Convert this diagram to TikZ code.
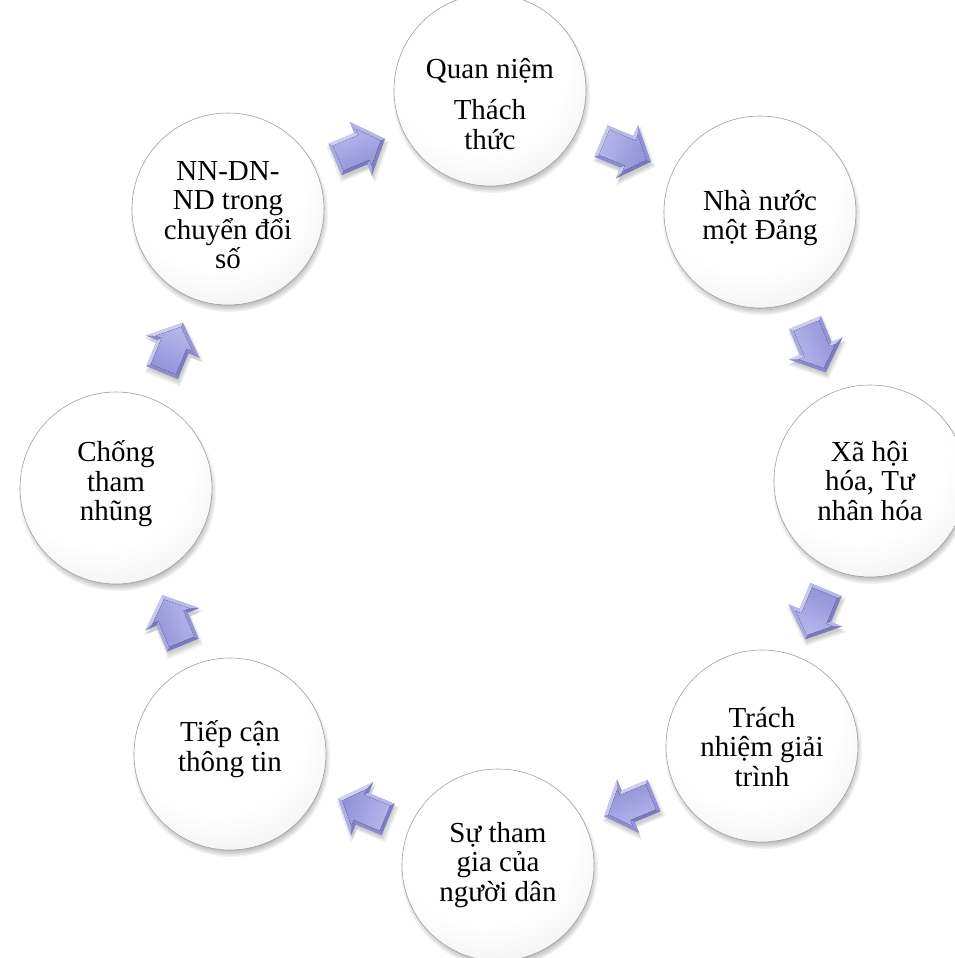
\documentclass[tikz,border=0pt]{standalone}
\usepackage{fontspec}
\setmainfont{Liberation Serif}
\usetikzlibrary{calc}
\definecolor{arrowface}{HTML}{A0A0E0}
\definecolor{arrowdark}{HTML}{5C5CA4}
\definecolor{arrowtop}{HTML}{B6B6EC}
\definecolor{arrowbot}{HTML}{9292D8}
\definecolor{rimgray}{HTML}{A0A0A0}
\pgfdeclareradialshading{bubbleshade}{\pgfpoint{-6bp}{14bp}}{color(0bp)=(white); color(24bp)=(white); color(34bp)=(black!5); color(42bp)=(black!12); color(48bp)=(black!22); color(53bp)=(black!34); color(58bp)=(black!45)}
\tikzset{
  bubble/.style={circle, minimum size=192pt, inner sep=0pt, shading=bubbleshade, draw=rimgray, line width=0.6pt},
  bubbletext/.style={align=center, inner sep=0pt, text=black, font=\fontsize{29}{29.5}\selectfont},
}
\newcommand\softshadow[1]{%
  \foreach \k in {0,...,5}{\fill[black,opacity=0.055] ($(#1)+(1.5pt,-4.5pt)$) circle[radius=91pt+\k*1.5pt];}}
\newcommand\facet[5]{%
  \pgfmathsetmacro\fb{cos(#1+\arrang-127)}%
  \pgfmathtruncatemacro\fw{max(0,50*\fb)}%
  \pgfmathtruncatemacro\fd{max(0,-60*\fb)}%
  \colorlet{fc}{white!\fw!arrowface}%
  \colorlet{fc}{arrowdark!\fd!fc}%
  \fill[fc] #2 -- #3 -- #4 -- #5 -- cycle;}
\newcommand\cyclearrow[3]{%
  \def\arrang{#3}%
  \pgfmathsetmacro\sang{45-#3}%
  \foreach \s in {0.94,1.0,1.06,1.12}{%
    \begin{scope}[shift={($(#1)!0.5!(#2)+(1.5pt,-4pt)$)},rotate=#3,scale=\s]
      \fill[black,opacity=0.05] (-26pt,17pt) -- (2pt,17pt) -- (2pt,29pt) -- (28pt,0pt) -- (2pt,-29pt) -- (2pt,-17pt) -- (-26pt,-17pt) -- cycle;
    \end{scope}}
  \begin{scope}[shift={($(#1)!0.5!(#2)$)},rotate=#3]
    \fill[arrowface] (-26pt,17pt) -- (2pt,17pt) -- (2pt,29pt) -- (28pt,0pt) -- (2pt,-29pt) -- (2pt,-17pt) -- (-26pt,-17pt) -- cycle;
    \facet{90}{(-26pt,17pt)}{(2pt,17pt)}{(5.5pt,13.5pt)}{(-22.5pt,13.5pt)}
    \facet{180}{(2pt,17pt)}{(2pt,29pt)}{(5.5pt,19.85pt)}{(5.5pt,13.5pt)}
    \facet{41.9}{(2pt,29pt)}{(28pt,0pt)}{(23.3pt,0pt)}{(5.5pt,19.85pt)}
    \facet{-41.9}{(28pt,0pt)}{(2pt,-29pt)}{(5.5pt,-19.85pt)}{(23.3pt,0pt)}
    \facet{180}{(2pt,-29pt)}{(2pt,-17pt)}{(5.5pt,-13.5pt)}{(5.5pt,-19.85pt)}
    \facet{-90}{(2pt,-17pt)}{(-26pt,-17pt)}{(-22.5pt,-13.5pt)}{(5.5pt,-13.5pt)}
    \facet{180}{(-26pt,-17pt)}{(-26pt,17pt)}{(-22.5pt,13.5pt)}{(-22.5pt,-13.5pt)}
    \fill[top color=arrowtop, bottom color=arrowbot, shading angle=\sang] (-22.5pt,13.5pt) -- (5.5pt,13.5pt) -- (5.5pt,19.85pt) -- (23.3pt,0pt) -- (5.5pt,-19.85pt) -- (5.5pt,-13.5pt) -- (-22.5pt,-13.5pt) -- cycle;
  \end{scope}}
\begin{document}
\begin{tikzpicture}[x=1pt,y=-1pt]
\useasboundingbox (0,0) rectangle (954,958);
\fill[white] (0,0) rectangle (954,958);
% centres
\coordinate (p1) at (490,90);
\coordinate (p2) at (760,212);
\coordinate (p3) at (870,481);
\coordinate (p4) at (762,746);
\coordinate (p5) at (498,865);
\coordinate (p6) at (230,754);
\coordinate (p7) at (116,488);
\coordinate (p8) at (228,209);
% shadows
\foreach \c in {p1,p2,p3,p4,p5,p6,p7,p8}{\softshadow{\c}}
% circles
\node[bubble] (n1) at (p1) {};
\node[bubble] (n2) at (p2) {};
\node[bubble] (n3) at (p3) {};
\node[bubble] (n4) at (p4) {};
\node[bubble] (n5) at (p5) {};
\node[bubble] (n6) at (p6) {};
\node[bubble] (n7) at (p7) {};
\node[bubble] (n8) at (p8) {};
% texts
\node[bubbletext, yshift=-14pt] (t1) at (n1) {Quan niệm\\[12pt]Thách\\thức};
\node[bubbletext, yshift=-6pt] (t2) at (n2) {Nhà nước\\một Đảng};
\node[bubbletext] (t3) at (n3) {Xã hội\\hóa, Tư\\nhân hóa};
\node[bubbletext, yshift=-1pt] (t4) at (n4) {Trách\\nhiệm giải\\trình};
\node[bubbletext] (t5) at (n5) {Sự tham\\gia của\\người dân};
\node[bubbletext, yshift=5pt] (t6) at (n6) {Tiếp cận\\thông tin};
\node[bubbletext, yshift=4pt] (t7) at (n7) {Chống\\tham\\nhũng};
\node[bubbletext, yshift=-6pt] (t8) at (n8) {NN-DN-\\ND trong\\chuyển đổi\\số};
% arrows
\cyclearrow{n8}{n1}{22.5}
\cyclearrow{n1}{n2}{-22.5}
\cyclearrow{n2}{n3}{-67.5}
\cyclearrow{n3}{n4}{-112.5}
\cyclearrow{n4}{n5}{-157.5}
\cyclearrow{n5}{n6}{157.5}
\cyclearrow{n6}{n7}{112.5}
\cyclearrow{n7}{n8}{67.5}
\end{tikzpicture}
\end{document}
